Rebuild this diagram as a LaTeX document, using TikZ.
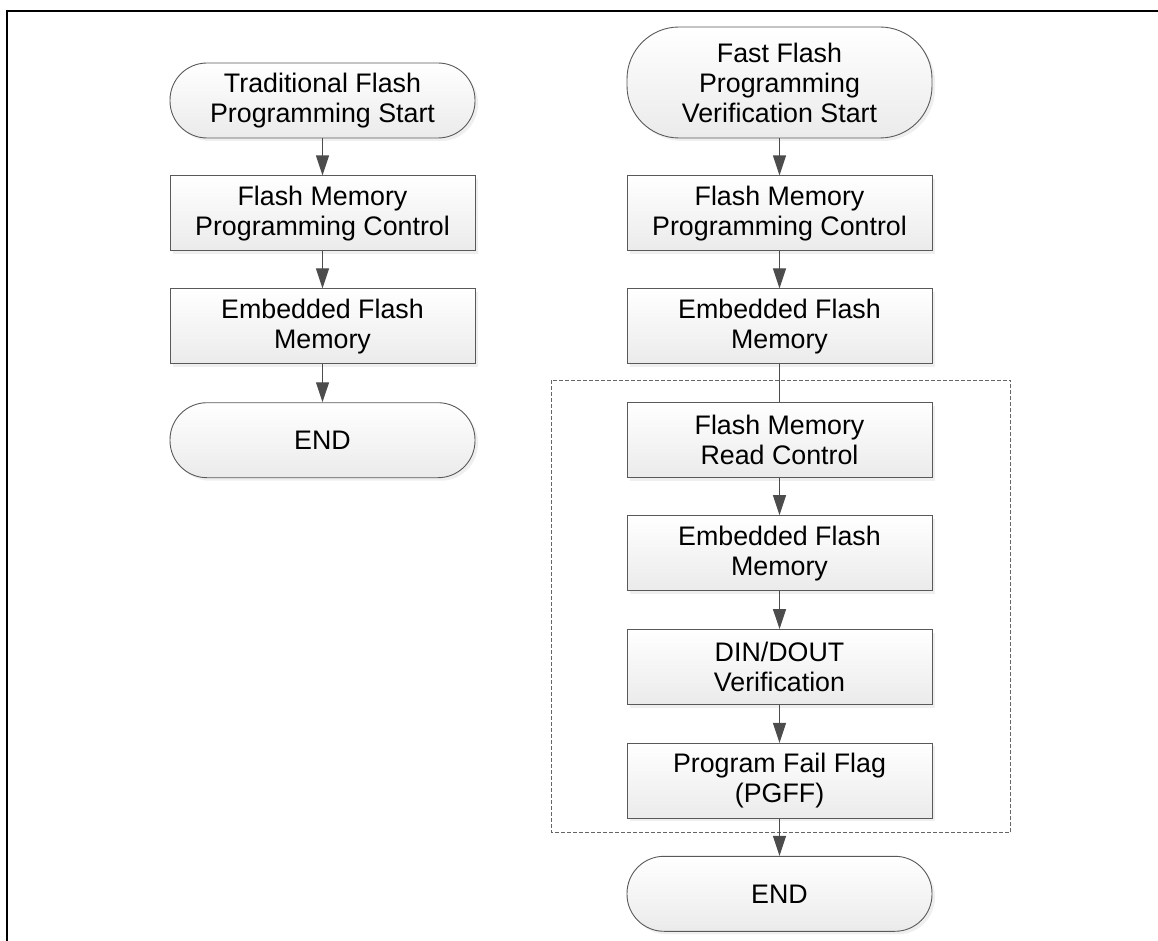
\documentclass[tikz,border=0pt]{standalone}
\usepackage{fontspec}
\setmainfont{Liberation Sans}
\usetikzlibrary{positioning,calc,arrows.meta,shadows}

\begin{document}
\begin{tikzpicture}[x=1pt, y=-1pt,
                node distance=37pt,
                every node/.style={font=\fontsize{26.8}{30}\selectfont, text=black},
                proc/.style={rectangle, draw=black!65, line width=0.9pt, top color=white, bottom color=black!8,
                    drop shadow={shadow xshift=3pt, shadow yshift=-3pt, fill=black!12},
                    minimum width=305pt, minimum height=75pt, inner sep=0pt, align=center},
                term/.style={proc, rounded corners=37pt},
                arr/.style={draw=black!70, line width=1.2pt, -{Triangle[length=20pt,width=13pt]}},
                link/.style={draw=black!70, line width=1.2pt},
                grp/.style={draw=black!60, line width=0.8pt, dash pattern=on 4pt off 2pt}
            ]
            \useasboundingbox (0,0) rectangle (1158,941);
            % Frame
            \draw[line width=2pt] (7,941) -- (7,11) -- (1158,11);
            % Nodes, traditional flow
            \node[term] (tstart) at (322.5,100.5) {Traditional Flash\\Programming Start};
            \node[proc, below=of tstart] (tctrl) {Flash Memory\\Programming Control};
            \node[proc, below=of tctrl] (tmem) {Embedded Flash\\Memory};
            \node[term, below=38pt of tmem] (tend) {END};
            % Nodes, fast flow
            \node[term, minimum height=111pt, rounded corners=52pt] (fstart) at (779.5,82.5) {Fast Flash\\Programming\\Verification Start};
            \node[proc, below=of fstart] (fctrl) {Flash Memory\\Programming Control};
            \node[proc, below=of fctrl] (fmem) {Embedded Flash\\Memory};
            \node[proc, below=38pt of fmem] (rctrl) {Flash Memory\\Read Control};
            \node[proc, below=of rctrl] (rmem) {Embedded Flash\\Memory};
            \node[proc, below=38pt of rmem] (verif) {DIN/DOUT\\Verification};
            \node[proc, below=38pt of verif] (pgff) {Program Fail Flag\\(PGFF)};
            \node[term, below=37pt of pgff] (fend) {END};
            % Verification group
            \draw[grp] ($(rctrl.north west)+(-75,-22)$) rectangle ($(pgff.south east)+(78,14)$);
            % Arrows
            \draw[arr] (tstart) -- (tctrl);
            \draw[arr] (tctrl) -- (tmem);
            \draw[arr] (tmem) -- (tend);
            \draw[arr] (fstart) -- (fctrl);
            \draw[arr] (fctrl) -- (fmem);
            \draw[link] (fmem) -- (rctrl);
            \draw[arr] (rctrl) -- (rmem);
            \draw[arr] (rmem) -- (verif);
            \draw[arr] (verif) -- (pgff);
            \draw[arr] (pgff) -- (fend);
            \end{tikzpicture}
\end{document}
